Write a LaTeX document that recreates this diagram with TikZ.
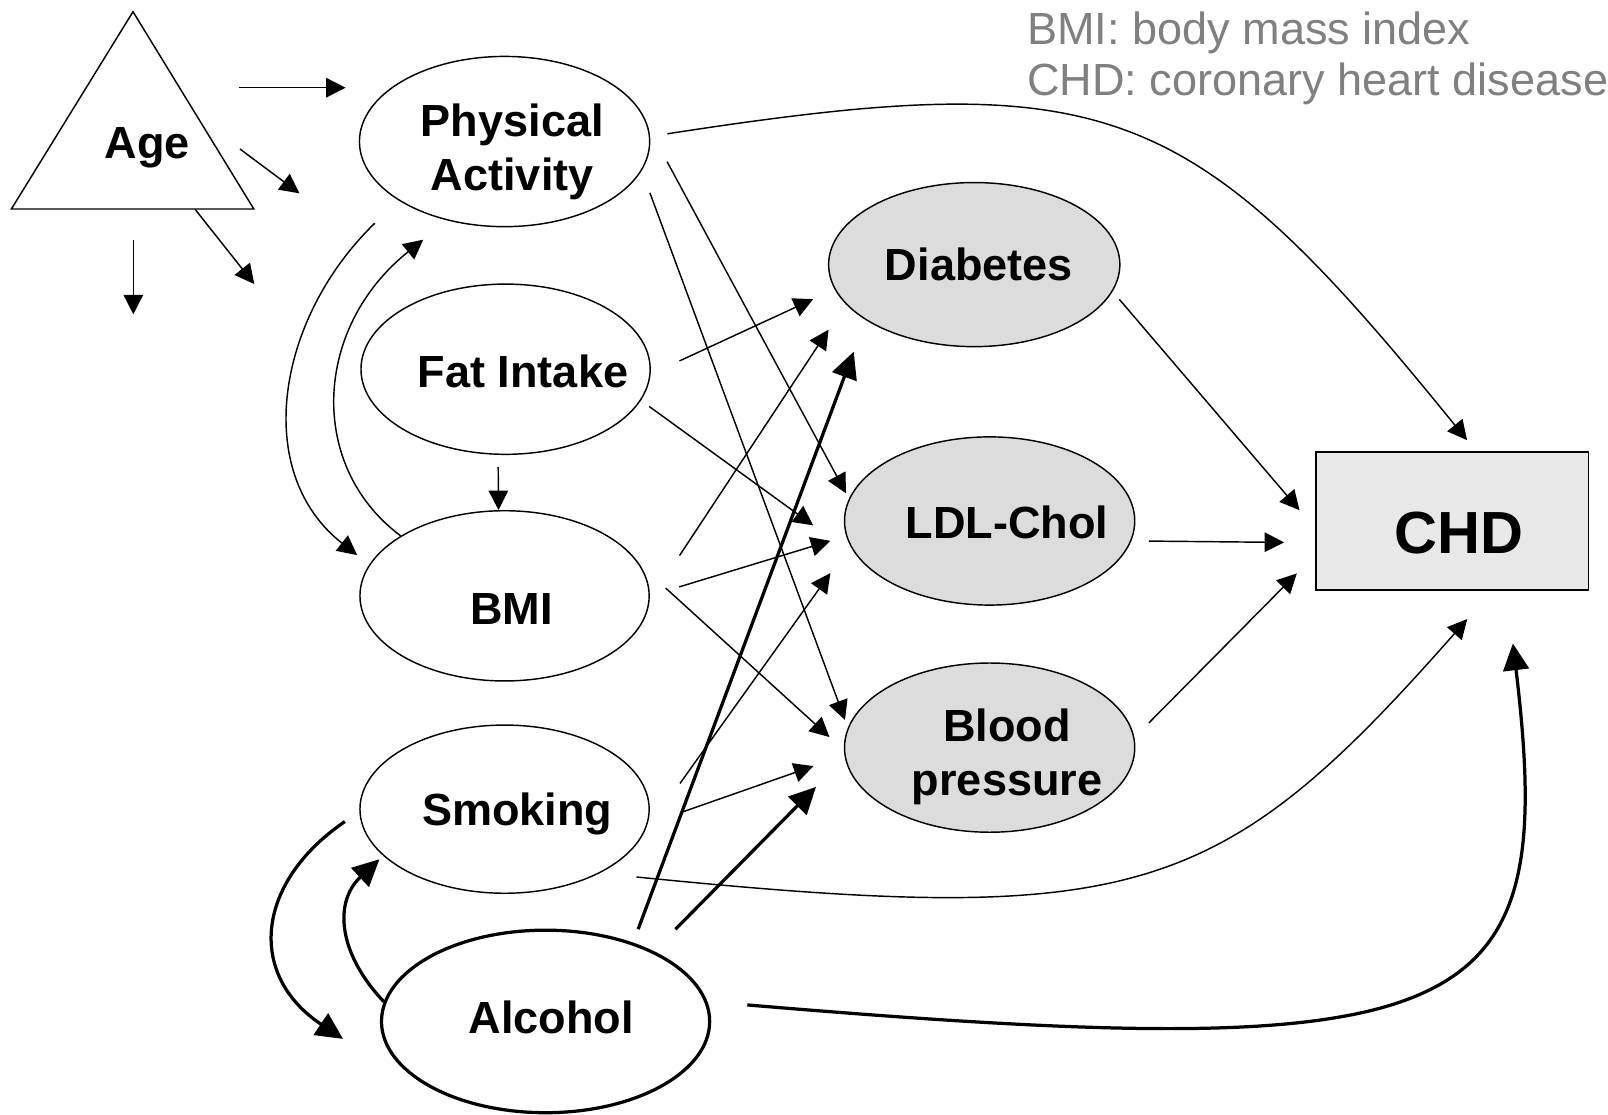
\documentclass[tikz,border=0pt]{standalone}
\usepackage{fontspec}
\setmainfont{Liberation Sans}
\usepackage{tikz}
\usetikzlibrary{shapes.geometric, arrows.meta, positioning, calc}
\definecolor{riskgray}{RGB}{220, 220, 220}
\definecolor{outcomegray}{RGB}{232, 232, 232}
\definecolor{notegray}{RGB}{128, 128, 128}

\begin{document}
\begin{tikzpicture}[
    lbl/.style={align=center, inner sep=0pt, font=\fontsize{12.5pt}{15pt}\selectfont\bfseries},
    factor/.style={draw, ellipse, line width=0.4pt, inner sep=0pt},
    risk/.style={factor, fill=riskgray},
    arrow/.style={-{Triangle[length=1.9mm, width=1.9mm]}, line width=0.4pt},
    heavy/.style={-{Triangle[length=2.6mm, width=2.5mm]}, line width=0.9pt}
]
    \useasboundingbox (0,0) rectangle (15.68,-10.87);

    % --- LEGEND ---
    \node[font=\fontsize{12.5pt}{14.2pt}\selectfont, text=notegray, align=left, anchor=north west, inner sep=0pt] (legend) at (10.01,-0.11) {BMI: body mass index\\CHD: coronary heart disease};

    % --- AGE ---
    \draw[line width=0.4pt] (0.111,-2.038) -- (1.297,-0.114) -- (2.475,-2.038) -- cycle;
    \node[lbl] (age) at (1.436,-1.44) {Age};
    \coordinate (a1s) at (2.33,-0.855);  \coordinate (a1e) at (3.37,-0.855);
    \coordinate (a2s) at (2.34,-1.453);  \coordinate (a2e) at (2.92,-1.885);
    \coordinate (a3s) at (1.90,-2.038);  \coordinate (a3e) at (2.48,-2.77);
    \coordinate (a4s) at (1.30,-2.34);   \coordinate (a4e) at (1.30,-3.065);
    \draw[arrow] (a1s) -- (a1e);
    \draw[arrow] (a2s) -- (a2e);
    \draw[arrow] (a3s) -- (a3e);
    \draw[arrow] (a4s) -- (a4e);

    % --- EXPOSURES ---
    \node[factor, minimum width=2.83cm, minimum height=1.66cm,
          label={[lbl, xshift=0.075cm, yshift=-0.105cm]center:{Physical\\Activity}}] (pa) at (4.92,-1.38) {};
    \node[factor, minimum width=2.82cm, minimum height=1.66cm,
          label={[lbl, xshift=0.17cm, yshift=-0.02cm]center:{Fat Intake}}] (fat) at (4.93,-3.60) {};
    \node[factor, minimum width=2.82cm, minimum height=1.66cm,
          label={[lbl, xshift=0.07cm, yshift=-0.126cm]center:{BMI}}] (bmi) at (4.92,-5.81) {};
    \node[factor, minimum width=2.82cm, minimum height=1.64cm,
          label={[lbl, xshift=0.125cm, yshift=-0.05cm]center:{Smoking}}] (smoke) at (4.92,-7.89) {};
    \node[factor, line width=0.9pt, minimum width=3.20cm, minimum height=1.78cm,
          label={[lbl, xshift=0.055cm, yshift=0.04cm]center:{Alcohol}}] (alc) at (5.32,-9.96) {};

    % --- INTERMEDIATES ---
    \node[risk, minimum width=2.84cm, minimum height=1.60cm,
          label={[lbl, xshift=0.045cm]center:{Diabetes}}] (diab) at (9.50,-2.58) {};
    \node[risk, minimum width=2.83cm, minimum height=1.64cm,
          label={[lbl, xshift=0.17cm, yshift=-0.01cm]center:{LDL-Chol}}] (ldl) at (9.65,-5.08) {};
    \node[risk, minimum width=2.83cm, minimum height=1.65cm,
          label={[lbl, xshift=0.17cm, yshift=-0.09cm]center:{Blood\\pressure}}] (bp) at (9.65,-7.29) {};

    % --- OUTCOME ---
    \node[draw, fill=outcomegray, line width=0.5pt, minimum width=2.66cm, minimum height=1.34cm, inner sep=0pt,
          label={[lbl, font=\fontsize{16.5pt}{18pt}\selectfont\bfseries, xshift=0.07cm, yshift=-0.12cm]center:{CHD}}] (chd) at (14.16,-5.08) {};

    % --- EXPOSURE LOOPS ---
    \draw[arrow, shorten <=0.32cm, shorten >=0.15cm] (pa.209.1) .. controls (2.70,-3.10) and (2.45,-4.60) .. (bmi.167.9);
    \draw[arrow, shorten >=0.30cm] (bmi.150.6) .. controls (3.00,-4.55) and (3.05,-3.20) .. (pa.234);
    \draw[arrow, shorten <=0.12cm] (fat.-95.5) -- (bmi.94.8);
    \draw[heavy, shorten <=0.17cm] (smoke.181.3) .. controls (2.50,-8.60) and (2.40,-9.50) .. ([shift={(-0.36,-0.17)}]alc.west);
    \draw[heavy, shorten >=0.05cm] (alc.173.6) .. controls (3.30,-9.30) and (3.25,-8.80) .. (smoke.201);

    % --- TO INTERMEDIATES ---
    \draw[arrow, shorten <=0.39cm, shorten >=0.06cm] (pa.6.2) -- (ldl.171.3);
    \draw[arrow, shorten <=0.23cm, shorten >=0.08cm] (pa.-12.4) -- (bp.172.3);
    \draw[arrow, shorten <=0.31cm, shorten >=0.23cm] (fat.-2) -- (diab.190.3);
    \draw[arrow, shorten <=0.10cm, shorten >=0.55cm] (fat.-13.4) -- (ldl.196.3);
    \draw[arrow, shorten <=0.53cm, shorten >=0.30cm] (bmi.-2.4) -- (diab.197.7);
    \draw[arrow, shorten <=0.30cm, shorten >=0.16cm] (bmi.0) -- (ldl.186.3);
    \draw[arrow, shorten <=0.34cm, shorten >=0.19cm] (bmi.13.3) -- (bp.181.6);
    \draw[arrow, shorten <=0.63cm, shorten >=0.33cm] (smoke.-11.7) -- (ldl.190.1);
    \draw[arrow, shorten <=0.35cm, shorten >=0.32cm] (smoke.-6.7) -- (bp.183.9);
    \draw[heavy, shorten <=0.14cm, shorten >=0.33cm] (alc.42.4) -- (diab.207);
    \draw[heavy, shorten <=0.30cm, shorten >=0.40cm] (alc.33.1) -- (bp.184);

    % --- TO CHD ---
    \draw[arrow, shorten <=0.10cm, shorten >=0.23cm] (diab.-11.6) -- (chd.183.1);
    \draw[arrow, shorten <=0.17cm, shorten >=0.30cm] (ldl.-8.3) -- (chd.189);
    \draw[arrow, shorten <=0.20cm, shorten >=0.25cm] (bp.4) -- (chd.194.3);
    \draw[arrow, shorten <=0.17cm, shorten >=0.14cm] (pa.2.6) .. controls (10.81,-0.64) and (11.59,-0.94) .. (chd.71.1);
    \draw[arrow, shorten <=0.36cm, shorten >=0.37cm] (smoke.-34.3) .. controls (11.08,-9.04) and (11.89,-8.78) .. (chd.-60.1);
    \draw[heavy, shorten <=0.39cm, shorten >=0.52cm] (alc.7.5) .. controls (14.40,-10.40) and (15.20,-10.00) .. (chd.-52.4);

\end{tikzpicture}
\end{document}
